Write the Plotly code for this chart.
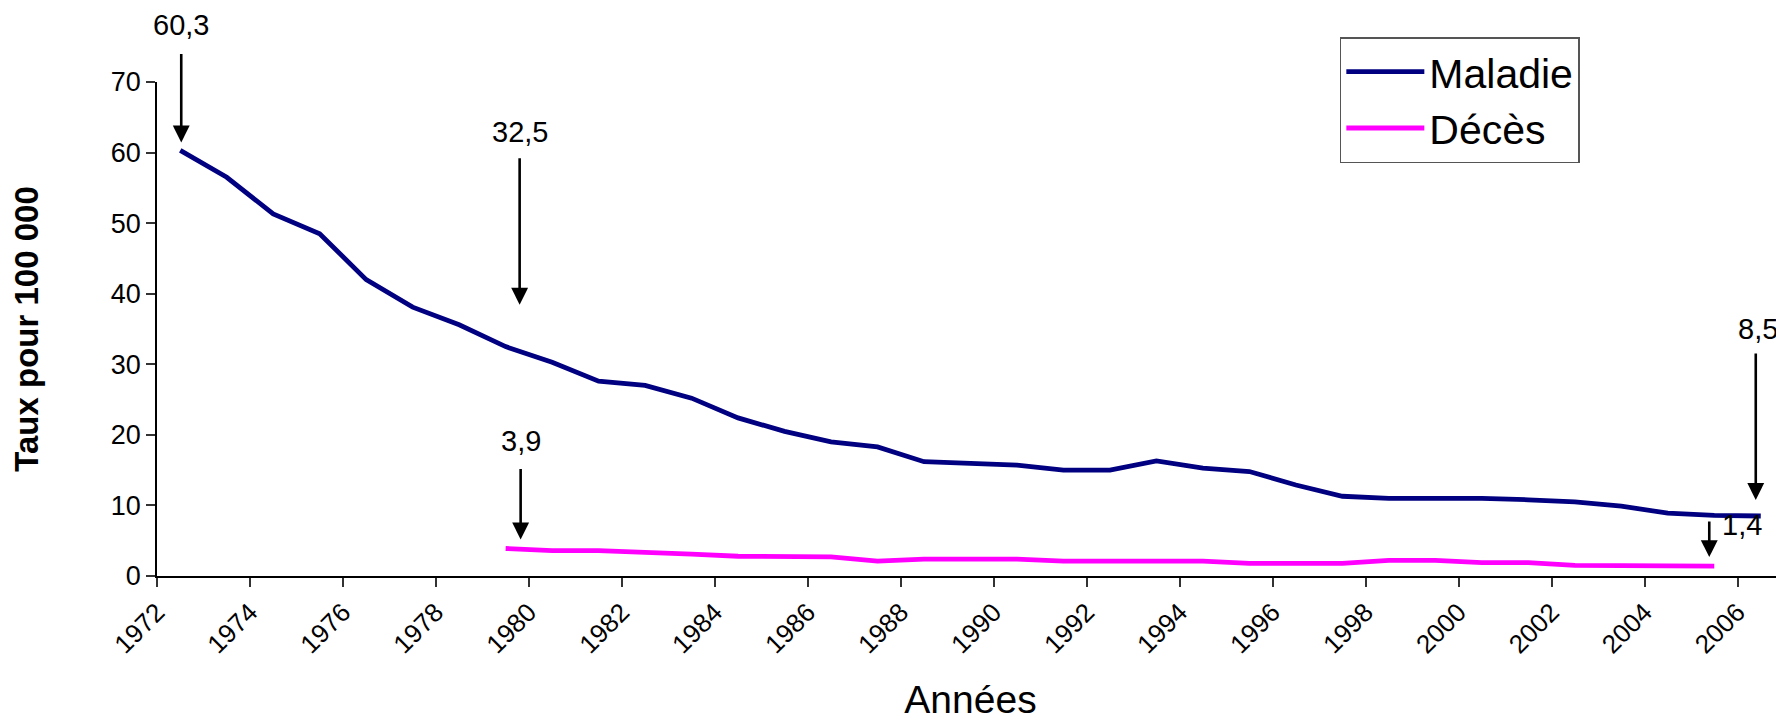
import plotly.graph_objects as go

# ---- data ----
years_maladie = list(range(1972, 2007))
maladie = [60.3, 56.5, 51.3, 48.5, 42.0, 38.1, 35.6, 32.5, 30.3, 27.6,
           27.0, 25.2, 22.4, 20.5, 19.0, 18.3, 16.2, 16.0, 15.7, 15.0,
           15.0, 16.3, 15.3, 14.8, 12.9, 11.3, 11.0, 11.0, 11.0, 10.8,
           10.5, 9.9, 8.9, 8.6, 8.5]
years_deces = list(range(1979, 2006))
deces = [3.9, 3.6, 3.6, 3.4, 3.1, 2.8, 2.7, 2.7, 2.1, 2.4,
         2.4, 2.4, 2.1, 2.1, 2.1, 2.1, 1.8, 1.8, 1.8, 2.2,
         2.2, 1.9, 1.9, 1.5, 1.5, 1.5, 1.4]
tick_years = list(range(1972, 2007, 2))
tick_labels = [str(y) for y in tick_years]

MAL_COLOR = "#000080"
DEC_COLOR = "#FF00FF"
FONT = "Arial, Liberation Sans, sans-serif"

fig = go.Figure()
fig.add_trace(go.Scatter(x=years_maladie, y=maladie, mode="lines", name="Maladie",
                         line=dict(color=MAL_COLOR, width=4.8)))
fig.add_trace(go.Scatter(x=years_deces, y=deces, mode="lines", name="Décès",
                         line=dict(color=DEC_COLOR, width=4.8)))


def fmt(v):
    return f"{v:.1f}".replace(".", ",")


# callouts: (year, value, arrow x shift, tip offset above point, tail offset above point,
#            text x shift, text offset above point)
callouts = [
    (years_maladie[0], maladie[0], 1, 8, 98, 1, 125),
    (1979, maladie[years_maladie.index(1979)], 14, 42, 190, 14, 215),
    (years_deces[0], deces[0], 15, 9, 81, 15, 107),
    (years_maladie[-1], maladie[-1], -5, 16, 164, -3, 187),
    (years_deces[-1], deces[-1], -5, 9, 46, 28, 41),
]

annotations = []
for yr, v, dx, tip, tail, tdx, tdy in callouts:
    annotations.append(dict(x=yr, y=v, xref="x", yref="y", text="", showarrow=True,
                            xshift=dx, yshift=tip, ax=0, ay=-(tail - tip),
                            axref="pixel", ayref="pixel",
                            arrowhead=2, arrowsize=1.3, arrowwidth=2.6,
                            arrowcolor="black", standoff=0, startstandoff=0))
    annotations.append(dict(x=yr, y=v, xref="x", yref="y", text=fmt(v), showarrow=False,
                            xshift=tdx, yshift=tdy, xanchor="center", yanchor="middle",
                            font=dict(family=FONT, size=29, color="black")))

fig.update_layout(
    width=1776, height=713,
    margin=dict(l=149, r=0, t=74, b=145, autoexpand=False),
    paper_bgcolor="white", plot_bgcolor="white",
    font=dict(family=FONT, color="black"),
    showlegend=True,
    legend=dict(x=0.727, y=1.091, xanchor="left", yanchor="top",
                bgcolor="white", bordercolor="#555555", borderwidth=1.5,
                font=dict(family=FONT, size=41, color="black"),
                itemwidth=78, tracegroupgap=0),
    annotations=annotations,
    xaxis=dict(range=[1971.5, 2006.5], showgrid=False, zeroline=False,
               tickmode="array", tickvals=[y - 0.5 for y in tick_years], ticktext=tick_labels,
               tickangle=-45, ticks="outside", ticklen=9, tickwidth=1.5, tickcolor="#333333",
               showline=True, linecolor="black", linewidth=1.5,
               tickfont=dict(family=FONT, size=26, color="black"),
               title=dict(text="Années", font=dict(family=FONT, size=39, color="black"),
                          standoff=37)),
    yaxis=dict(range=[0, 70], dtick=10, showgrid=False, zeroline=False,
               ticks="outside", ticklen=9, tickwidth=1.5, tickcolor="#333333",
               showline=True, linecolor="black", linewidth=1.5,
               tickfont=dict(family=FONT, size=27, color="black"),
               title=dict(text="<b>Taux pour 100 000</b>",
                          font=dict(family=FONT, size=33, color="black"), standoff=72)),
)

fig.write_html("out.html")
